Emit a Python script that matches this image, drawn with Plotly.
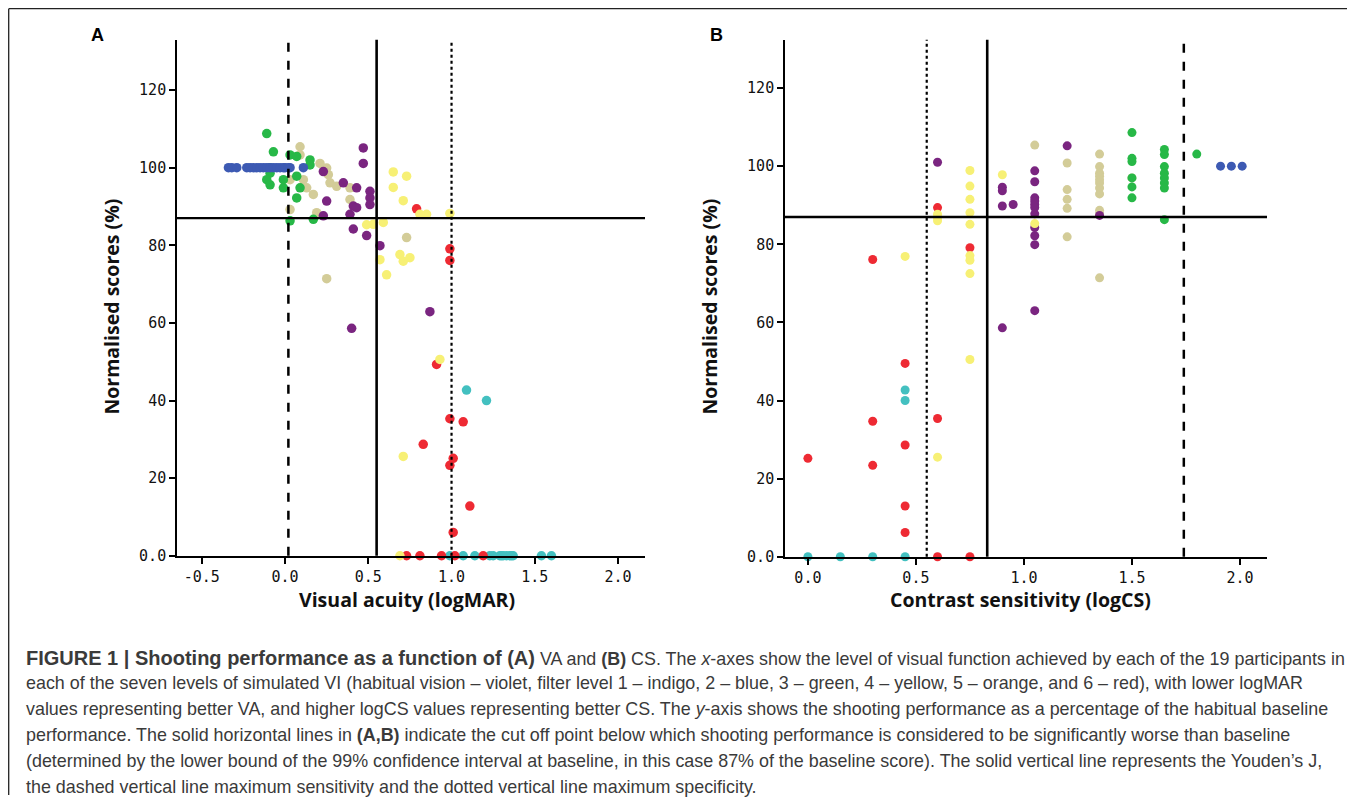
import plotly.graph_objects as go

# ---------------- DATA ----------------
# Panel A: Visual acuity (logMAR) vs normalised score (%)
blue_va_x = [-0.34, -0.32, -0.29, -0.23, -0.21, -0.19, -0.17, -0.15, -0.13, -0.11, -0.09, -0.07, -0.05, -0.03, -0.01, 0.0, 0.02, 0.03, 0.11]
blue_va_y = [100] * 19
green_va_x = [-0.11, -0.07, 0.03, 0.07, 0.15, 0.15, -0.09, -0.09, -0.11, -0.09, -0.01, 0.07, -0.01, 0.09, 0.07, 0.03, 0.17]
green_va_y = [108.8, 104.1, 103.3, 102.9, 102.0, 100.7, 100.0, 98.6, 96.9, 95.6, 96.9, 97.8, 94.8, 94.8, 92.2, 86.3, 86.7]
tan_va_x = [0.09, 0.09, 0.21, 0.25, 0.26, 0.27, 0.31, 0.39, 0.11, 0.13, 0.17, 0.03, 0.03, 0.19, 0.39, 0.25, 0.73]
tan_va_y = [105.4, 103.3, 101.1, 99.9, 98.2, 96.1, 95.2, 94.8, 96.9, 94.8, 93.1, 96.9, 89.2, 88.4, 91.8, 71.4, 82.0]
purple_va_x = [0.47, 0.47, 0.23, 0.35, 0.43, 0.51, 0.51, 0.51, 0.41, 0.43, 0.25, 0.39, 0.23, 0.41, 0.49, 0.57, 0.87, 0.40]
purple_va_y = [105.1, 101.1, 99.0, 96.1, 94.8, 93.9, 92.2, 90.5, 90.1, 89.7, 91.4, 88.0, 87.6, 84.2, 82.5, 79.9, 62.9, 58.6]
yellow_va_x = [0.65, 0.73, 0.65, 0.71, 0.85, 0.81, 0.99, 0.53, 0.59, 0.57, 0.69, 0.71, 0.75, 0.61, 0.49, 0.93, 0.71, 0.69]
yellow_va_y = [98.9, 97.8, 94.9, 91.5, 88.0, 88.0, 88.2, 85.4, 85.9, 76.3, 77.6, 75.9, 76.8, 72.4, 85.3, 50.6, 25.6, 0.0]
red_va_x = [0.79, 0.99, 0.99, 0.91, 0.99, 1.07, 0.83, 1.01, 0.99, 1.11, 1.01, 0.73, 0.81, 0.94, 1.02, 1.19]
red_va_y = [89.4, 79.1, 76.1, 49.3, 35.3, 34.5, 28.7, 25.1, 23.3, 12.8, 6.0, 0.0, 0.0, 0.0, 0.0, 0.0]
cyan_va_x = [1.09, 1.21, 0.99, 1.07, 1.14, 1.23, 1.25, 1.29, 1.30, 1.31, 1.33, 1.35, 1.36, 1.37, 1.54, 1.60]
cyan_va_y = [42.7, 40.0, 0, 0, 0, 0, 0, 0, 0, 0, 0, 0, 0, 0, 0, 0]

# Panel B: Contrast sensitivity (logCS) vs normalised score (%)
blue_cs_x = [1.91, 1.96, 2.01]
blue_cs_y = [100, 100, 100]
green_cs_x = [1.5, 1.5, 1.5, 1.5, 1.5, 1.5, 1.65, 1.65, 1.65, 1.65, 1.65, 1.65, 1.65, 1.65, 1.8]
green_cs_y = [108.6, 102.0, 101.2, 97.0, 94.7, 91.9, 104.3, 103.0, 99.9, 98.2, 97.0, 95.7, 94.4, 86.3, 103.1]
tan_cs_x = [1.05, 1.2, 1.2, 1.2, 1.2, 1.2, 1.35, 1.35, 1.35, 1.35, 1.35, 1.35, 1.35, 1.35, 1.35, 1.35, 1.35, 1.5]
tan_cs_y = [105.4, 100.8, 94.0, 91.5, 89.2, 81.9, 103.1, 99.9, 98.2, 97.4, 96.5, 95.7, 94.4, 92.9, 88.7, 87.7, 71.4, 97.0]
purple_cs_x = [0.6, 0.9, 0.9, 0.9, 0.95, 0.9, 1.05, 1.05, 1.05, 1.05, 1.05, 1.05, 1.05, 1.05, 1.05, 1.05, 1.05, 1.2, 1.35]
purple_cs_y = [101.0, 94.6, 93.7, 89.8, 90.2, 58.6, 98.8, 96.0, 91.9, 91.1, 90.2, 89.4, 87.8, 84.3, 82.2, 79.9, 63.0, 105.2, 87.4]
yellow_cs_x = [0.6, 0.6, 0.6, 0.75, 0.75, 0.75, 0.75, 0.75, 0.75, 0.75, 0.75, 0.45, 0.9, 1.05, 0.6, 0.75]
yellow_cs_y = [87.7, 86.0, 86.8, 98.9, 94.9, 91.5, 88.1, 85.1, 77.1, 75.9, 72.5, 76.9, 97.8, 85.3, 25.5, 50.5]
red_cs_x = [0.6, 0.75, 0.3, 0.45, 0.3, 0.6, 0.45, 0.0, 0.3, 0.45, 0.45, 0.6, 0.75]
red_cs_y = [89.4, 79.1, 76.1, 49.5, 34.7, 35.4, 28.6, 25.2, 23.4, 13.0, 6.2, 0.0, 0.0]
cyan_cs_x = [0.45, 0.45, 0.0, 0.15, 0.3, 0.45]
cyan_cs_y = [42.7, 40.0, 0, 0, 0, 0]

# Reference lines
cutoff_score = 87
va_lines = {"dash": 0.02, "solid": 0.55, "dot": 1.0}
cs_lines = {"dot": 0.55, "solid": 0.83, "dash": 1.74}

# Ticks
y_tickvals = [0, 20, 40, 60, 80, 100, 120]
y_ticktext = ["0.0", "20", "40", "60", "80", "100", "120"]
va_tickvals = [-0.5, 0.0, 0.5, 1.0, 1.5, 2.0]
va_ticktext = ["-0.5", "0.0", "0.5", "1.0", "1.5", "2.0"]
cs_tickvals = [0.0, 0.5, 1.0, 1.5, 2.0]
cs_ticktext = ["0.0", "0.5", "1.0", "1.5", "2.0"]

colors = {
    "blue": "#3D5AB3",
    "green": "#27B847",
    "tan": "#D3CC98",
    "purple": "#7A2580",
    "yellow": "#F7F075",
    "red": "#EE2A33",
    "cyan": "#43C0C0",
}

series_va = [
    ("cyan", cyan_va_x, cyan_va_y),
    ("red", red_va_x, red_va_y),
    ("yellow", yellow_va_x, yellow_va_y),
    ("tan", tan_va_x, tan_va_y),
    ("green", green_va_x, green_va_y),
    ("blue", blue_va_x, blue_va_y),
    ("purple", purple_va_x, purple_va_y),
]
series_cs = [
    ("cyan", cyan_cs_x, cyan_cs_y),
    ("red", red_cs_x, red_cs_y),
    ("tan", tan_cs_x, tan_cs_y),
    ("green", green_cs_x, green_cs_y),
    ("blue", blue_cs_x, blue_cs_y),
    ("purple", purple_cs_x, purple_cs_y),
    ("yellow", yellow_cs_x, yellow_cs_y),
]

BIG = '<span style="font-size:20px"><b>'
caption_lines = [
    BIG + "FIGURE 1 | Shooting performance as a function of (A)</b></span> VA and <b>(B)</b> CS. The <i>x</i>-axes show the level of visual function achieved by each of the 19 participants in",
    "each of the seven levels of simulated VI (habitual vision – violet, filter level 1 – indigo, 2 – blue, 3 – green, 4 – yellow, 5 – orange, and 6 – red), with lower logMAR",
    "values representing better VA, and higher logCS values representing better CS. The <i>y</i>-axis shows the shooting performance as a percentage of the habitual baseline",
    "performance. The solid horizontal lines in <b>(A,B)</b> indicate the cut off point below which shooting performance is considered to be significantly worse than baseline",
    "(determined by the lower bound of the 99% confidence interval at baseline, in this case 87% of the baseline score). The solid vertical line represents the Youden’s J,",
    "the dashed vertical line maximum sensitivity and the dotted vertical line maximum specificity.",
]

# ---------------- FIGURE ----------------
OFF = 8  # page body margin
W, H = 1355 - 2 * OFF, 812 - 2 * OFF
fig = go.Figure()

for name, xs, ys in series_va:
    fig.add_trace(go.Scatter(x=xs, y=ys, mode="markers", name=name, xaxis="x", yaxis="y",
                             marker=dict(color=colors[name], size=9.5, line=dict(width=0)),
                             cliponaxis=False, showlegend=False))
for name, xs, ys in series_cs:
    fig.add_trace(go.Scatter(x=xs, y=ys, mode="markers", name=name, xaxis="x2", yaxis="y2",
                             marker=dict(color=colors[name], size=9, line=dict(width=0)),
                             cliponaxis=False, showlegend=False))

def px_x(p):
    return (p - OFF) / W

def px_y(p):
    return 1 - (p - OFF) / H

tickfont = dict(family="DejaVu Sans Mono", size=15, color="#111")
axis_common = dict(showline=True, linecolor="black", linewidth=1.6, ticks="outside", ticklen=6,
                   tickwidth=1.5, tickcolor="black", showgrid=False, zeroline=False,
                   tickfont=tickfont, fixedrange=True)

fig.update_layout(
    width=W, height=H, margin=dict(l=0, r=0, t=0, b=0),
    paper_bgcolor="white", plot_bgcolor="white",
    xaxis=dict(domain=[px_x(177), px_x(645)], range=[-0.649, 2.162], anchor="y",
               tickvals=va_tickvals, ticktext=va_ticktext, **axis_common),
    yaxis=dict(domain=[px_y(562), px_y(40)], range=[0, 133], anchor="x",
               tickvals=y_tickvals, ticktext=y_ticktext, **axis_common),
    xaxis2=dict(domain=[px_x(785), px_x(1267)], range=[-0.106, 2.125], anchor="y2",
                tickvals=cs_tickvals, ticktext=cs_ticktext, **axis_common),
    yaxis2=dict(domain=[px_y(563), px_y(40)], range=[0, 132.4], anchor="x2",
                tickvals=y_tickvals, ticktext=y_ticktext, **axis_common),
)

dash_map = {"dash": "dash", "solid": "solid", "dot": "dot"}
width_map = {"dash": 2.5, "solid": 2.6, "dot": 2.2}
shapes = []
for kind, val in va_lines.items():
    shapes.append(dict(type="line", xref="x", yref="y domain", x0=val, x1=val, y0=0, y1=1,
                       line=dict(color="black", width=width_map[kind], dash=dash_map[kind])))
for kind, val in cs_lines.items():
    shapes.append(dict(type="line", xref="x2", yref="y2 domain", x0=val, x1=val, y0=0, y1=1,
                       line=dict(color="black", width=width_map[kind], dash=dash_map[kind])))
shapes.append(dict(type="line", xref="x domain", yref="y", x0=0, x1=1, y0=cutoff_score, y1=cutoff_score,
                   line=dict(color="black", width=2.4)))
shapes.append(dict(type="line", xref="x2 domain", yref="y2", x0=0, x1=1, y0=cutoff_score, y1=cutoff_score,
                   line=dict(color="black", width=2.4)))
# outer frame (left and top edges)
shapes.append(dict(type="line", xref="paper", yref="paper", x0=px_x(8.7), x1=px_x(8.7), y0=0, y1=px_y(8.7),
                   line=dict(color="#222", width=1.3)))
shapes.append(dict(type="line", xref="paper", yref="paper", x0=px_x(8.7), x1=1, y0=px_y(8.7), y1=px_y(8.7),
                   line=dict(color="#222", width=1.3)))
fig.update_layout(shapes=shapes)

ann = []
title_font = dict(family="Open Sans", size=19.5, color="#111")
ann.append(dict(text="<b>A</b>", x=px_x(97), y=px_y(35), xref="paper", yref="paper", showarrow=False,
                font=dict(family="Liberation Sans", size=18, color="black"), xanchor="center", yanchor="middle"))
ann.append(dict(text="<b>B</b>", x=px_x(716), y=px_y(35), xref="paper", yref="paper", showarrow=False,
                font=dict(family="Liberation Sans", size=18, color="black"), xanchor="center", yanchor="middle"))
ann.append(dict(text="<b>Normalised scores (%)</b>", x=px_x(112), y=px_y(310), xref="paper", yref="paper",
                showarrow=False, textangle=-90, font=title_font, xanchor="center", yanchor="middle"))
ann.append(dict(text="<b>Normalised scores (%)</b>", x=px_x(710), y=px_y(310), xref="paper", yref="paper",
                showarrow=False, textangle=-90, font=title_font, xanchor="center", yanchor="middle"))
ann.append(dict(text="<b>Visual acuity (logMAR)</b>", x=px_x(407), y=px_y(606), xref="paper", yref="paper",
                showarrow=False, font=title_font, xanchor="center", yanchor="middle"))
ann.append(dict(text="<b>Contrast sensitivity (logCS)</b>", x=px_x(1020), y=px_y(606), xref="paper", yref="paper",
                showarrow=False, font=title_font, xanchor="center", yanchor="middle"))

cap_font = dict(family="Liberation Sans", size=17.9, color="#3a3a3a")
for i, line in enumerate(caption_lines):
    ann.append(dict(text=line, x=px_x(24), y=px_y(665 + 26.2 * i), xref="paper", yref="paper",
                    showarrow=False, font=cap_font, xanchor="left", yanchor="middle", align="left"))
fig.update_layout(annotations=ann)

fig.write_html("out.html")
